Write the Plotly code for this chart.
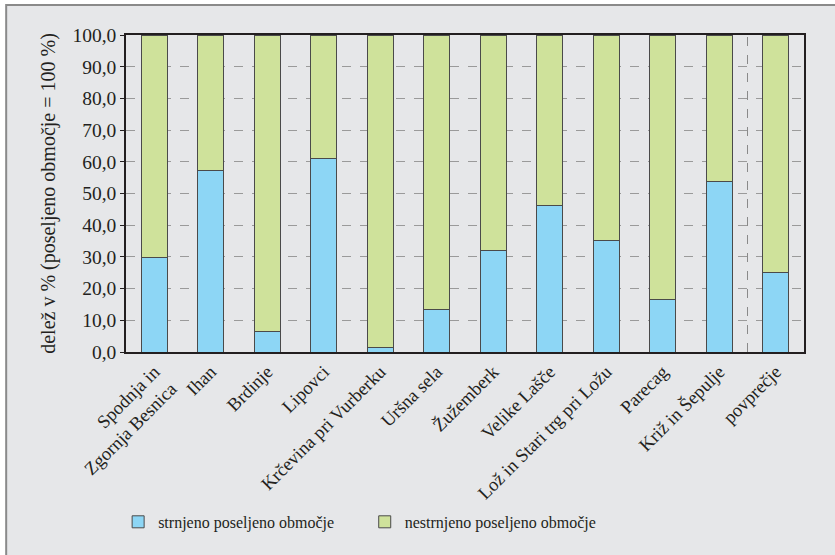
import plotly.graph_objects as go

categories = [
    "Spodnja in<br>Zgornja Besnica", "Ihan", "Brdinje", "Lipovci",
    "Krčevina pri Vurberku", "Uršna sela", "Žužemberk", "Velike Lašče",
    "Lož in Stari trg pri Ložu", "Parecag", "Križ in Šepulje", "povprečje",
]
strnjeno = [29.7, 57.4, 6.6, 60.9, 1.4, 13.3, 32.1, 46.3, 35.3, 16.6, 53.8, 25.1]
nestrnjeno = [round(100 - v, 1) for v in strnjeno]

y_ticks = [0, 10, 20, 30, 40, 50, 60, 70, 80, 90, 100]

FONT = "Liberation Serif"
TXT = "#231f20"
BLUE = "#8dd6f5"
GREEN = "#cfe29b"
EDGE = "#4a4a4a"

fig = go.Figure()
fig.add_trace(go.Bar(
    x=categories, y=strnjeno, name="strnjeno poseljeno območje",
    marker=dict(color=BLUE, line=dict(color=EDGE, width=1)), width=0.46,
    legend="legend",
))
fig.add_trace(go.Bar(
    x=categories, y=nestrnjeno, name="nestrnjeno poseljeno območje",
    marker=dict(color=GREEN, line=dict(color=EDGE, width=1)), width=0.46,
    legend="legend2",
))

# outer frame (grey panel with top/left border)
fig.add_shape(type="rect", xref="paper", yref="paper",
              x0=-120 / 679, x1=1.2, y0=-1.0, y1=(352 - 5) / 317,
              fillcolor="#e6e7e9", line=dict(color="#8a8a8a", width=2),
              layer="below")
# separator before average
fig.add_shape(type="line", xref="x", yref="paper", x0=10.5, x1=10.5, y0=0, y1=1,
              line=dict(color="#8a8a8a", width=1, dash="dash"))

legend_common = dict(orientation="h", xanchor="left", y=-0.536, yanchor="middle",
                     bgcolor="rgba(0,0,0,0)", itemwidth=30,
                     font=dict(family=FONT, size=16, color=TXT))

fig.update_layout(
    width=835, height=555,
    margin=dict(l=126, r=31, t=35, b=203, autoexpand=False),
    paper_bgcolor="white", plot_bgcolor="white",
    barmode="stack", bargap=0.54,
    separators=", ",
    font=dict(family=FONT, size=18, color=TXT),
    showlegend=True,
    legend=dict(x=-0.0116, **legend_common),
    legend2=dict(x=0.3521, **legend_common),
)
fig.update_xaxes(
    tickangle=-45, showline=True, linecolor="#231f20", linewidth=1.5, mirror=True,
    ticks="", showgrid=False, automargin=False,
    tickfont=dict(family=FONT, size=18.5, color=TXT),
)
fig.update_yaxes(
    range=[0, 100], tickvals=y_ticks, tickformat=".1f",
    showline=True, linecolor="#231f20", linewidth=1.5, mirror=True,
    ticks="outside", ticklen=4, tickcolor="#231f20",
    showgrid=True, gridcolor="#9a9a9a", griddash="dash", gridwidth=1,
    zeroline=False, automargin=False,
    tickfont=dict(family=FONT, size=19.5, color=TXT),
    title=dict(text="delež v % (poseljeno območje = 100 %)",
               font=dict(family=FONT, size=20, color=TXT), standoff=11),
)

fig.write_html("out.html", config={"displayModeBar": False},
               post_script="document.body.style.margin='0';document.body.style.padding='0';")
